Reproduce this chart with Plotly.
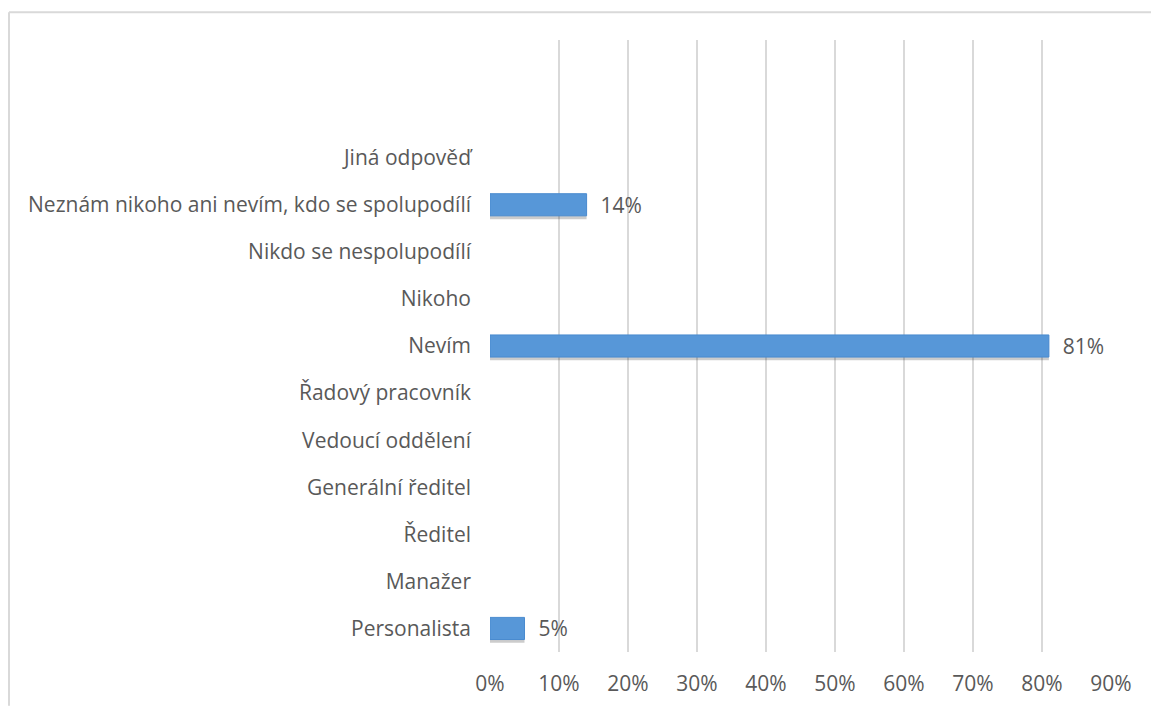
import plotly.graph_objects as go

# Survey answers, bottom to top
categories = [
    "Personalista",
    "Manažer",
    "Ředitel",
    "Generální ředitel",
    "Vedoucí oddělení",
    "Řadový pracovník",
    "Nevím",
    "Nikoho",
    "Nikdo se nespolupodílí",
    "Neznám nikoho ani nevím, kdo se spolupodílí",
    "Jiná odpověď",
]
shares = [0.05, None, None, None, None, None, 0.81, None, None, 0.14, None]
x_ticks = [0, 0.1, 0.2, 0.3, 0.4, 0.5, 0.6, 0.7, 0.8, 0.9]
x_tick_labels = ["0%", "10%", "20%", "30%", "40%", "50%", "60%", "70%", "80%", "90%"]

FONT = "Open Sans, Liberation Sans, sans-serif"
GREY_TEXT = "#595959"
FS = 21
BAR_W = 0.47

fig = go.Figure()

# soft drop shadow under each bar
fig.add_trace(go.Bar(
    y=list(range(len(categories))),
    x=shares,
    orientation="h",
    width=BAR_W,
    offset=-BAR_W / 2 - 0.07,
    marker=dict(color="rgba(0,0,0,0.2)", line=dict(width=0)),
    hoverinfo="skip",
    showlegend=False,
))

# main bars with value labels
fig.add_trace(go.Bar(
    y=list(range(len(categories))),
    x=shares,
    orientation="h",
    width=BAR_W,
    offset=-BAR_W / 2,
    marker=dict(color="#5797d8", line=dict(color="#4a8bcf", width=1)),
    text=[f"  {v:.0%}" if v is not None else "" for v in shares],
    textposition="outside",
    constraintext="none",
    textfont=dict(family=FONT, size=FS, color=GREY_TEXT),
    cliponaxis=False,
    showlegend=False,
))

fig.update_layout(
    width=1151,
    height=709,
    margin=dict(l=490, r=40, t=40, b=54),
    paper_bgcolor="white",
    plot_bgcolor="white",
    barmode="overlay",
    font=dict(family=FONT, size=FS, color=GREY_TEXT),
    xaxis=dict(
        range=[0, 0.9],
        tickvals=x_ticks,
        ticktext=x_tick_labels,
        showgrid=True,
        gridcolor="#d9d9d9",
        gridwidth=2,
        zeroline=False,
        showline=False,
        ticks="",
        ticklabelstandoff=17,
        tickfont=dict(family=FONT, size=FS, color=GREY_TEXT),
    ),
    yaxis=dict(
        range=[-0.5, 12.5],
        tickvals=list(range(len(categories))),
        ticktext=categories,
        showgrid=False,
        zeroline=False,
        showline=False,
        ticks="",
        ticklabelstandoff=18,
        tickfont=dict(family=FONT, size=FS, color=GREY_TEXT),
    ),
)

# chart frame: left and top border
plot_w = 1151 - 490 - 40
plot_h = 709 - 40 - 54
left_x = (9 - 490) / plot_w
top_y = (655 - 12) / plot_h
right_x = (1151 - 490) / plot_w
bottom_y = (655 - 709) / plot_h
fig.add_shape(type="line", xref="paper", yref="paper",
              x0=left_x, x1=right_x, y0=top_y, y1=top_y,
              line=dict(color="#d9d9d9", width=2))
fig.add_shape(type="line", xref="paper", yref="paper",
              x0=left_x, x1=left_x, y0=bottom_y, y1=top_y,
              line=dict(color="#d9d9d9", width=2))

fig.write_html("out.html")
